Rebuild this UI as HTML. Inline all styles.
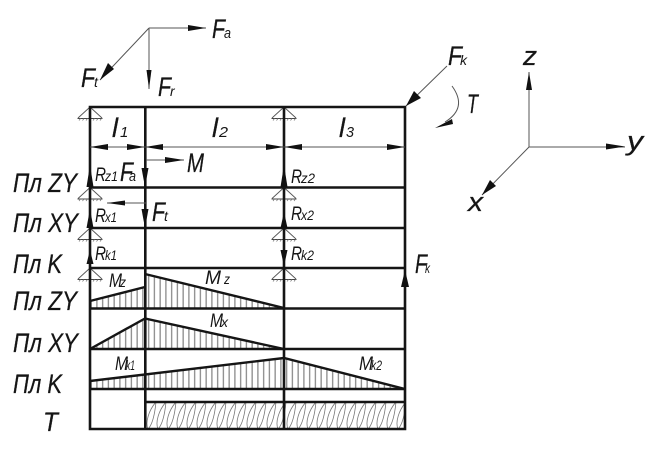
<!DOCTYPE html>
<html><head><meta charset="utf-8">
<style>
html,body{margin:0;padding:0;background:#fff;width:652px;height:455px;overflow:hidden}
svg{display:block}
text{font-family:"Liberation Sans",sans-serif;font-style:italic;fill:#151515}
.b{font-size:27px;stroke:#151515;stroke-width:.25}.m{font-size:19px}.s{font-size:15px}.t{font-size:14px}
.thin{stroke:#555;stroke-width:1;fill:none}
.hv{stroke:#151515;stroke-width:2.6;fill:none}
.ar{fill:#111;stroke:none}
</style></head><body>
<svg width="652" height="455" viewBox="0 0 652 455" xmlns="http://www.w3.org/2000/svg">
<defs>
<pattern id="h" width="5.75" height="10" patternUnits="userSpaceOnUse" x="146">
<rect x="2" y="0" width="1.3" height="10" fill="#8a8a8a"/>
</pattern>
<pattern id="tw" width="10" height="27" patternUnits="userSpaceOnUse" x="145" y="402">
<g fill="none" stroke="#777" stroke-width=".8">
<path d="M11,0C4,8 0,20 3,27C8,22 10,10 11,0"/>
<path d="M1,0C-6,8 -10,20 -7,27C-2,22 0,10 1,0"/>
<path d="M21,0C14,8 10,20 13,27C18,22 20,10 21,0"/>
</g>
</pattern>
<g id="sup">
<path d="M-12,11L0,0L12,11" fill="none" stroke="#555" stroke-width=".9"/>
<path d="M-12.500,11.500H12.500" stroke="#444" stroke-width=".9" fill="none"/>
<path d="M-11,13.500L-9.500,11.500M-7.500,13.500L-6,11.500M-4,13.500L-2.500,11.500M-.5,13.500L1,11.500M3,13.500L4.500,11.500M6.500,13.500L8,11.500M10,13.500L11.500,11.500" stroke="#777" stroke-width=".7" fill="none"/>
</g>
</defs>

<!-- hatched moment diagrams -->
<path fill="url(#h)" d="M90,301L145,287V308H90Z"/>
<path fill="url(#h)" d="M145,274L284,308H145Z"/>
<path fill="url(#h)" d="M90,349L145,318.500V349Z"/>
<path fill="url(#h)" d="M145,318.500L284,349H145Z"/>
<path fill="url(#h)" d="M90,381L284,358L405,389H90Z"/>
<rect x="145" y="402" width="260" height="27" fill="url(#tw)"/>

<!-- supports -->
<use href="#sup" x="90" y="107"/><use href="#sup" x="284" y="107"/>
<use href="#sup" x="90" y="187.500"/><use href="#sup" x="284" y="187.500"/>
<use href="#sup" x="90" y="228"/><use href="#sup" x="284" y="228"/>
<use href="#sup" x="90" y="268"/><use href="#sup" x="284" y="268"/>

<!-- frame -->
<g class="hv">
<path d="M90,107H405V429H90Z"/>
<path d="M145.300,107V429M284,107V429"/>
<path d="M90,187.500H405M90,228H405M90,268H405M90,308.500H405M90,349H405M90,389H405M145,402H405"/>
<path d="M90,301L145,287M145,274L284,308M90,349L145,318.500L284,349M90,381L284,358L405,389" stroke-width="2.400"/>
</g>

<!-- thin lines -->
<g class="thin">
<path d="M149,28H206M149,28V89M149,28L100,80"/>
<path d="M90,147H405"/>
<path d="M146,160H184M146,203H107"/>
<path d="M447,66L406,106"/>
<path d="M452,86Q468,108 445,122"/>
<path d="M529,147V72M529,147H625M529,147L482,195"/>
</g>

<!-- arrowheads -->
<g class="ar">
<path d="M206,28L188,25V31Z"/>
<path d="M149,89L146.500,70H151.500Z"/>
<path d="M100,80L108,63L114,69Z"/>
<path d="M90,147L108,144V150Z"/><path d="M145,147L127,144V150Z"/>
<path d="M145,147L163,144V150Z"/><path d="M284,147L266,144V150Z"/>
<path d="M284,147L302,144V150Z"/><path d="M405,147L387,144V150Z"/>
<path d="M184,160L165,157V163Z"/>
<path d="M107,203L125,200.500V205.500Z"/>
<path d="M90,165L86.500,187H93.500Z"/>
<path d="M145,187L141.500,168H148.500Z"/>
<path d="M145,228L141.500,209H148.500Z"/>
<path d="M90,209L86.500,228H93.500Z"/>
<path d="M90,250L86.500,264H93.500Z"/>
<path d="M284,165L280.500,187H287.500Z"/>
<path d="M284,212L280.500,228H287.500Z"/>
<path d="M284,266L280.500,250H287.500Z"/>
<path d="M405,270L401,287H409Z"/>
<path d="M406,106L414,91L421,98Z"/>
<path d="M435,128L452,119L453,124Z"/>
<path d="M529,72L526,90H532Z"/>
<path d="M625,146.500L606,143.500V149.500Z"/>
<path d="M482,195L490,180L496,186Z"/>
</g>

<!-- row labels -->
<text class="b" x="13" y="192" textLength="64" lengthAdjust="spacingAndGlyphs">Пл ZY</text>
<text class="b" x="13" y="232" textLength="65" lengthAdjust="spacingAndGlyphs">Пл XY</text>
<text class="b" x="13" y="273" textLength="49" lengthAdjust="spacingAndGlyphs">Пл K</text>
<text class="b" x="13" y="310" textLength="64" lengthAdjust="spacingAndGlyphs">Пл ZY</text>
<text class="b" x="13" y="352" textLength="65" lengthAdjust="spacingAndGlyphs">Пл XY</text>
<text class="b" x="13" y="393" textLength="49" lengthAdjust="spacingAndGlyphs">Пл K</text>
<text class="b" x="43" y="431" textLength="15" lengthAdjust="spacingAndGlyphs">T</text>

<!-- force labels -->
<text class="b" x="212" y="38" textLength="13" lengthAdjust="spacingAndGlyphs">F</text><text class="s" x="224" y="38" textLength="7" lengthAdjust="spacingAndGlyphs">a</text>
<text class="b" x="81" y="87" textLength="14" lengthAdjust="spacingAndGlyphs">F</text><text class="t" x="94" y="87">t</text>
<text class="b" x="158" y="96" textLength="13" lengthAdjust="spacingAndGlyphs">F</text><text class="t" x="170" y="96">r</text>
<text class="b" x="448" y="65" textLength="14" lengthAdjust="spacingAndGlyphs">F</text><text class="t" x="460" y="65" textLength="7" lengthAdjust="spacingAndGlyphs">k</text>
<text class="b" x="415" y="273" textLength="12" lengthAdjust="spacingAndGlyphs">F</text><text class="t" x="425" y="273" textLength="5" lengthAdjust="spacingAndGlyphs">k</text>
<text class="b" x="120" y="181" textLength="13" lengthAdjust="spacingAndGlyphs">F</text><text class="s" x="129" y="181" textLength="7" lengthAdjust="spacingAndGlyphs">a</text>
<text class="b" x="152" y="221" textLength="13" lengthAdjust="spacingAndGlyphs">F</text><text class="t" x="164" y="221">t</text>
<text class="b" x="187" y="172" textLength="17" lengthAdjust="spacingAndGlyphs">M</text>
<text class="b" x="467" y="113" textLength="11" lengthAdjust="spacingAndGlyphs">T</text>

<!-- lengths -->
<text class="b" x="112" y="137" textLength="6" lengthAdjust="spacingAndGlyphs">l</text><text class="s" x="120" y="137">1</text>
<text class="b" x="212" y="137" textLength="6" lengthAdjust="spacingAndGlyphs">l</text><text class="s" x="219" y="137" textLength="9" lengthAdjust="spacingAndGlyphs">2</text>
<text class="b" x="339" y="137" textLength="6" lengthAdjust="spacingAndGlyphs">l</text><text class="s" x="346" y="137" textLength="8" lengthAdjust="spacingAndGlyphs">3</text>

<!-- reactions -->
<text class="m" x="95" y="181" textLength="11" lengthAdjust="spacingAndGlyphs">R</text><text class="t" x="105" y="181" textLength="13" lengthAdjust="spacingAndGlyphs">z1</text>
<text class="m" x="95" y="222" textLength="11" lengthAdjust="spacingAndGlyphs">R</text><text class="t" x="105" y="222" textLength="12" lengthAdjust="spacingAndGlyphs">x1</text>
<text class="m" x="95" y="260" textLength="11" lengthAdjust="spacingAndGlyphs">R</text><text class="t" x="105" y="260" textLength="12" lengthAdjust="spacingAndGlyphs">k1</text>
<text class="m" x="291" y="183" textLength="11" lengthAdjust="spacingAndGlyphs">R</text><text class="t" x="301" y="183" textLength="14" lengthAdjust="spacingAndGlyphs">z2</text>
<text class="m" x="291" y="220" textLength="11" lengthAdjust="spacingAndGlyphs">R</text><text class="t" x="301" y="220" textLength="13" lengthAdjust="spacingAndGlyphs">x2</text>
<text class="m" x="291" y="260" textLength="11" lengthAdjust="spacingAndGlyphs">R</text><text class="t" x="301" y="260" textLength="13" lengthAdjust="spacingAndGlyphs">k2</text>

<!-- moments -->
<text class="m" x="109" y="287" textLength="13" lengthAdjust="spacingAndGlyphs">M</text><text class="t" x="120" y="287" textLength="6" lengthAdjust="spacingAndGlyphs">z</text>
<text class="m" x="205" y="284" textLength="16" lengthAdjust="spacingAndGlyphs">M</text><text class="t" x="224" y="284" textLength="6" lengthAdjust="spacingAndGlyphs">z</text>
<text class="m" x="210" y="327" textLength="13" lengthAdjust="spacingAndGlyphs">M</text><text class="t" x="221" y="327" textLength="7" lengthAdjust="spacingAndGlyphs">x</text>
<text class="m" x="115" y="370" textLength="13" lengthAdjust="spacingAndGlyphs">M</text><text class="t" x="126" y="370" textLength="9" lengthAdjust="spacingAndGlyphs">k1</text>
<text class="m" x="359" y="370" textLength="14" lengthAdjust="spacingAndGlyphs">M</text><text class="t" x="371" y="370" textLength="11" lengthAdjust="spacingAndGlyphs">k2</text>

<!-- axes -->
<text class="b" x="523" y="65" textLength="14" lengthAdjust="spacingAndGlyphs">z</text>
<text class="b" x="627" y="150" textLength="16" lengthAdjust="spacingAndGlyphs">y</text>
<text class="b" x="468" y="211" textLength="15" lengthAdjust="spacingAndGlyphs">x</text>
</svg>
</body></html>
